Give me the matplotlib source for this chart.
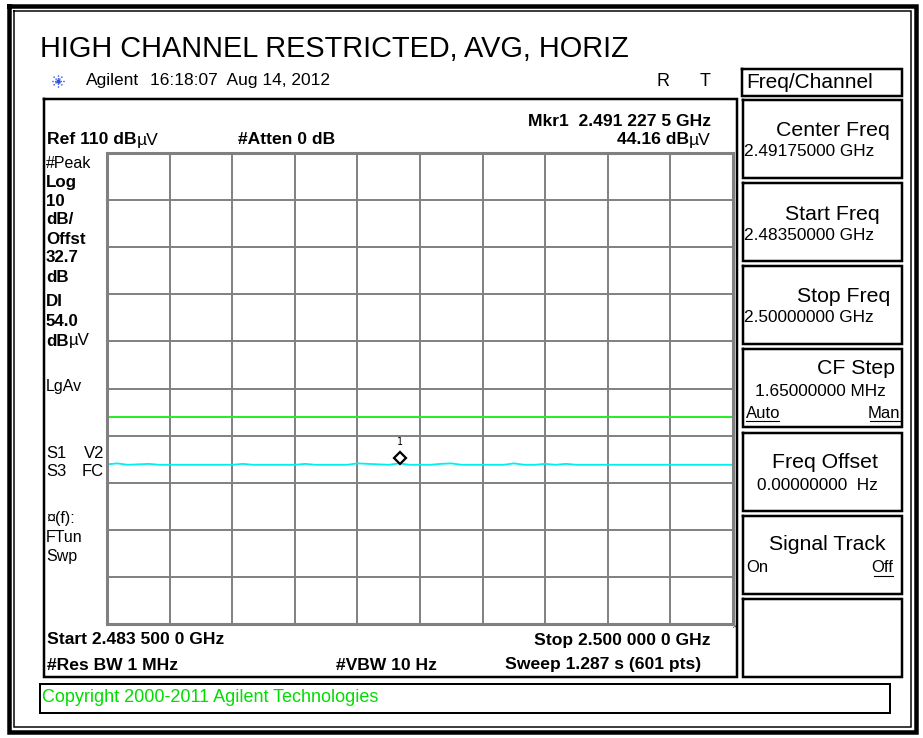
import numpy as np
import matplotlib
matplotlib.use("Agg")
import matplotlib.pyplot as plt
import matplotlib.transforms as mtransforms

# ---------------- data ----------------
start_ghz = 2.4835
stop_ghz = 2.5000
ref_level = 110.0
db_per_div = 10.0
display_line = 54.0
marker_freq = 2.4912275
marker_level = 44.16
# trace samples (dBuV), evenly spaced from start to stop
trace_db = [43.9, 44.1, 43.8, 43.9, 44.0, 43.8, 43.8, 43.8, 43.8, 43.8,
            43.8, 43.8, 43.8, 44.0, 43.8, 43.8, 43.8, 43.8, 43.8, 44.0,
            43.8, 43.8, 43.8, 43.8, 44.1, 44.0, 43.9, 43.8, 44.1, 43.8,
            43.8, 43.8, 44.0, 44.1, 43.8, 43.8, 43.8, 43.8, 43.8, 44.1,
            43.8, 43.8, 44.0, 43.8, 44.0, 43.8, 43.8, 43.8, 43.8, 43.8,
            43.8, 43.8, 43.8, 43.8, 43.8, 43.8, 43.8, 43.8, 43.8, 43.8,
            43.8]
left_bold = ["Log", "10", "dB/", "Offst", "32.7", "dB", "DI", "54.0"]
left_regular = ["#Peak", "LgAv", "\u00a4(f):", "FTun", "Swp"]
softkeys = [("Center Freq", "2.49175000 GHz"), ("Start Freq", "2.48350000 GHz"),
            ("Stop Freq", "2.50000000 GHz"), ("CF Step", "1.65000000 MHz"),
            ("Freq Offset", "0.00000000  Hz"), ("Signal Track", ""), ("", "")]

W, H = 923, 738
fig = plt.figure(figsize=(W / 100, H / 100), dpi=100)
fig.patch.set_facecolor("white")

ax0 = fig.add_axes([0, 0, 1, 1])
ax0.set_xlim(0, W)
ax0.set_ylim(H, 0)
ax0.axis("off")

PX = 0.72
SANS = ["Liberation Sans", "DejaVu Sans"]
BS = 12.6   # instrument bold text size


def rect(x0, y0, x1, y1, lw, color="black"):
    ax0.plot([x0, x1, x1, x0, x0], [y0, y0, y1, y1, y0], color=color, lw=lw * PX,
             solid_joinstyle="miter", solid_capstyle="projecting")


rect(9, 6, 916, 732, 4.5)
rect(14, 11, 911, 727, 1.5)
rect(44, 99, 737, 677, 2.5)
rect(40, 684, 890, 713, 2)

renderer = fig.canvas.get_renderer()


def seq_text(x, y, parts, ha="left", size=BS, color="black"):
    widths = []
    for s, w in parts:
        t = ax0.text(0, 0, s, fontsize=size, fontweight=w, family=SANS)
        widths.append(t.get_window_extent(renderer).width)
        t.remove()
    total = sum(widths)
    cx = x - total if ha == "right" else x
    for (s, w), wd in zip(parts, widths):
        ax0.text(cx, y, s, fontsize=size, fontweight=w, family=SANS, color=color,
                 ha="left", va="center")
        cx += wd


ax0.text(40, 49, "HIGH CHANNEL RESTRICTED, AVG, HORIZ", fontsize=20.8,
         family=SANS, ha="left", va="center")

cx, cy = 58, 81
for ang in np.arange(0, 360, 45):
    r = np.deg2rad(ang)
    ax0.plot([cx + 2 * np.cos(r), cx + 7 * np.cos(r)], [cy + 2 * np.sin(r), cy + 7 * np.sin(r)],
             color="#3050e0", lw=1.0, ls=(0, (1, 1)))
ax0.plot([cx], [cy], marker="o", ms=2, color="#3050e0")
ax0.text(86, 81, "Agilent", fontsize=12.5, family=SANS, ha="left", va="center")
ax0.text(150, 81, "16:18:07  Aug 14, 2012", fontsize=12.5, family=SANS, ha="left", va="center")
ax0.text(663, 81, "R", fontsize=13, family=SANS, ha="center", va="center")
ax0.text(705, 81, "T", fontsize=13, family=SANS, ha="center", va="center")

seq_text(47, 140, [("Ref 110 dB", "bold"), ("\u00b5V", "normal")])
seq_text(238, 140, [("#Atten 0 dB", "bold")])
seq_text(711, 121, [("Mkr1  2.491 227 5 GHz", "bold")], ha="right")
seq_text(711, 140, [("44.16 dB", "bold"), ("\u00b5V", "normal")], ha="right")

# left column
bold_y = [182, 201, 220, 239, 258, 278, 302, 321]
for lab, yy in zip(left_bold, bold_y):
    seq_text(46, yy, [(lab, "bold")], size=12.2)
seq_text(46, 341, [("dB", "bold"), ("\u00b5V", "normal")], size=12.2)
reg_y = [163, 387, 518, 537, 556]
for lab, yy in zip(left_regular, reg_y):
    ax0.text(46, yy, lab, fontsize=11.5, family=SANS, ha="left", va="center")
for yy, a, b in [(453, "S1", "V2"), (472, "S3", "FC")]:
    ax0.text(46, yy, a, fontsize=12, family=SANS, ha="left", va="center")
    ax0.text(104, yy, b, fontsize=12, family=SANS, ha="right", va="center")

# bottom info
seq_text(47, 640, [("Start 2.483 500 0 GHz", "bold")])
seq_text(711, 640, [("Stop 2.500 000 0 GHz", "bold")], ha="right")
seq_text(47, 665, [("#Res BW 1 MHz", "bold")])
seq_text(336, 665, [("#VBW 10 Hz", "bold")])
seq_text(701, 665, [("Sweep 1.287 s (601 pts)", "bold")], ha="right")
ax0.text(735, 629, "^", fontsize=6, family=SANS, ha="center", va="center")
seq_text(42, 698, [("Copyright 2000-2011 Agilent Technologies", "normal")], size=13,
         color="#00dd00")

# softkey panel
rect(742, 69, 902, 96, 2.5)
ax0.text(746, 83, "Freq/Channel", fontsize=15, family=SANS, ha="left", va="center")
box_tops = [100, 183, 266, 349, 433, 516, 599]
LS, VS, SS = 15.3, 12.4, 12
for top in box_tops:
    rect(743, top, 902, top + 78, 2.5)
for (lab, val), top in zip(softkeys, box_tops):
    if lab == "CF Step":
        ax0.text(895, top + 19, lab, fontsize=LS, family=SANS, ha="right", va="center")
        ax0.text(755, top + 43, val, fontsize=VS, family=SANS, ha="left", va="center")
        ax0.text(746, top + 64, "Auto", fontsize=SS, family=SANS, ha="left", va="center")
        ax0.text(900, top + 64, "Man", fontsize=SS, family=SANS, ha="right", va="center")
        ax0.plot([746, 779], [top + 72, top + 72], color="black", lw=0.8)
        ax0.plot([870, 900], [top + 72, top + 72], color="black", lw=0.8)
    elif lab == "Signal Track":
        ax0.text(886, top + 29, lab, fontsize=LS, family=SANS, ha="right", va="center")
        ax0.text(746, top + 52, "On", fontsize=SS, family=SANS, ha="left", va="center")
        ax0.text(893, top + 52, "Off", fontsize=SS, family=SANS, ha="right", va="center")
        ax0.plot([874, 893], [top + 60, top + 60], color="black", lw=0.8)
    elif lab == "Freq Offset":
        ax0.text(878, top + 30, lab, fontsize=LS, family=SANS, ha="right", va="center")
        ax0.text(757, top + 52, val, fontsize=VS, family=SANS, ha="left", va="center")
    elif lab:
        rx = 880 if lab == "Start Freq" else 890
        ax0.text(rx, top + 31, lab, fontsize=LS, family=SANS, ha="right", va="center")
        ax0.text(744, top + 52, val, fontsize=VS, family=SANS, ha="left", va="center")

# ---------------- data axes (graticule) ----------------
gl, gr, gt, gb = 107, 733, 153, 624
ax = fig.add_axes([gl / W, (H - gb) / H, (gr - gl) / W, (gb - gt) / H])
ax.set_facecolor("white")
ax.set_xlim(start_ghz, stop_ghz)
ax.set_ylim(ref_level - 10 * db_per_div, ref_level)
ax.set_xticks(np.linspace(start_ghz, stop_ghz, 11))
ax.set_yticks(np.linspace(ref_level - 10 * db_per_div, ref_level, 11))
ax.tick_params(length=0, labelbottom=False, labelleft=False)
ax.grid(True, color="#808080", lw=1.4)
for sp in ax.spines.values():
    sp.set_color("#808080")
    sp.set_linewidth(2.2)

freqs = np.linspace(start_ghz, stop_ghz, len(trace_db))
ax.axhline(display_line, color="#22ee22", lw=1.4)
ax.plot(freqs, trace_db, color="#00f0f0", lw=1.3)
mk, = ax.plot([marker_freq], [marker_level], marker="D", ms=6.5, mfc="white", mec="black",
              mew=1.6)
mk.set_transform(ax.transData + mtransforms.ScaledTranslation(0, 5 / 100, fig.dpi_scale_trans))
ax.annotate("1", (marker_freq, marker_level), xytext=(0, 21 * PX), textcoords="offset points",
            ha="center", va="center", fontsize=7, family="DejaVu Sans Mono")

fig.savefig("out.png", dpi=100, facecolor="white")
